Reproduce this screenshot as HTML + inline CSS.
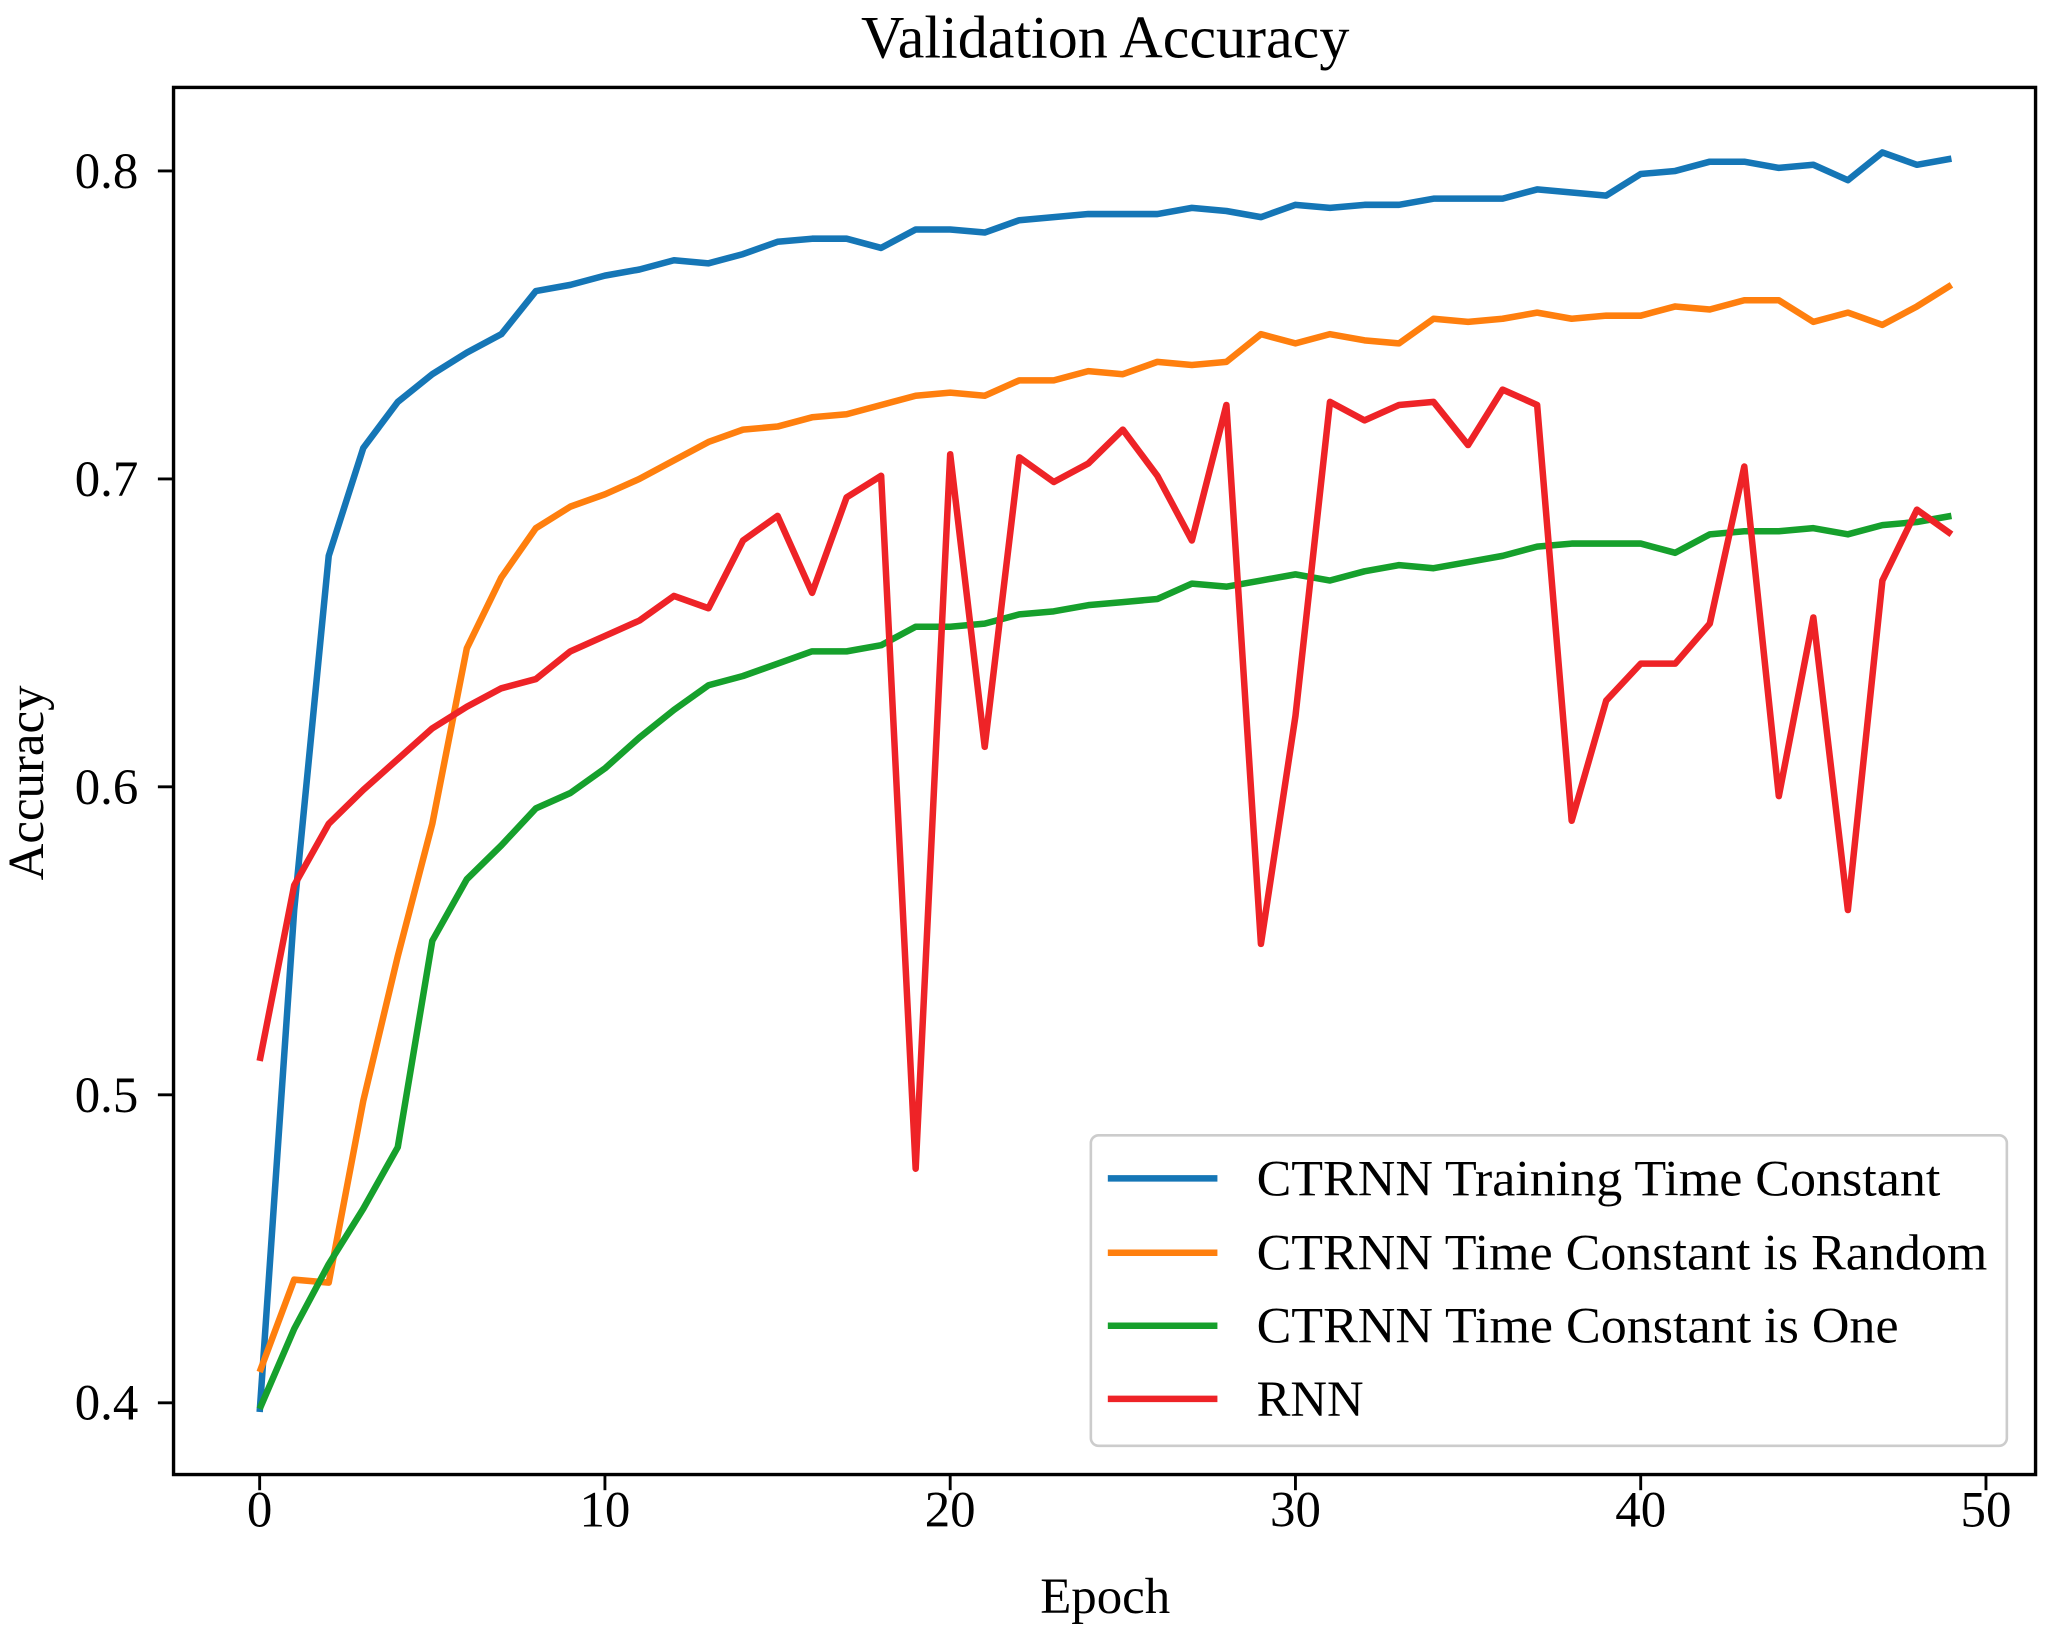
<!DOCTYPE html>
<html><head><meta charset="utf-8"><style>
html,body{margin:0;padding:0;background:#fff;}
svg{display:block;}
text{font-family:"Liberation Serif",serif;fill:#000;}
</style></head><body>
<svg id="chart" width="2046" height="1637" viewBox="0 0 1568 1254.5" preserveAspectRatio="none" xmlns="http://www.w3.org/2000/svg">
<text x="847" y="44" font-size="46" text-anchor="middle">Validation Accuracy</text>
<g id="plot"></g>
<text x="847" y="1236" font-size="39" text-anchor="middle">Epoch</text>
<text x="0" y="0" font-size="39" text-anchor="middle" transform="translate(33,600) rotate(-90)">Accuracy</text>
<g id="legend"></g>
</svg>
<script>
const epochs = Array.from({length:50},(_, i)=>i);
const seriesNames = ["CTRNN Training Time Constant","CTRNN Time Constant is Random","CTRNN Time Constant is One","RNN"];
const blueVals = [0.397,0.56,0.675,0.71,0.725,0.734,0.741,0.747,0.761,0.763,0.766,0.768,0.771,0.770,0.773,0.777,0.778,0.778,0.775,0.781,0.781,0.780,0.784,0.785,0.786,0.786,0.786,0.788,0.787,0.785,0.789,0.788,0.789,0.789,0.791,0.791,0.791,0.794,0.793,0.792,0.799,0.800,0.803,0.803,0.801,0.802,0.797,0.806,0.802,0.804];
const orangeVals = [0.41,0.44,0.439,0.498,0.545,0.588,0.645,0.668,0.684,0.691,0.695,0.700,0.706,0.712,0.716,0.717,0.720,0.721,0.724,0.727,0.728,0.727,0.732,0.732,0.735,0.734,0.738,0.737,0.738,0.747,0.744,0.747,0.745,0.744,0.752,0.751,0.752,0.754,0.752,0.753,0.753,0.756,0.755,0.758,0.758,0.751,0.754,0.750,0.756,0.763];
const greenVals = [0.398,0.424,0.445,0.463,0.483,0.55,0.57,0.581,0.593,0.598,0.606,0.616,0.625,0.633,0.636,0.640,0.644,0.644,0.646,0.652,0.652,0.653,0.656,0.657,0.659,0.660,0.661,0.666,0.665,0.667,0.669,0.667,0.670,0.672,0.671,0.673,0.675,0.678,0.679,0.679,0.679,0.676,0.682,0.683,0.683,0.684,0.682,0.685,0.686,0.688];
const redVals = [0.511,0.568,0.588,0.599,0.609,0.619,0.626,0.632,0.635,0.644,0.649,0.654,0.662,0.658,0.680,0.688,0.663,0.694,0.701,0.476,0.708,0.613,0.707,0.699,0.705,0.716,0.701,0.680,0.724,0.549,0.623,0.725,0.719,0.724,0.725,0.711,0.729,0.724,0.589,0.628,0.640,0.640,0.653,0.704,0.597,0.655,0.560,0.667,0.690,0.682];
const xTicks = [0,10,20,30,40,50];
const yTicks = [0.4,0.5,0.6,0.7,0.8];

const NS="http://www.w3.org/2000/svg";
const X0=199, X50=1522, Y04=1075, Y08=131;
const xs = v => X0 + (v-0)*(X50-X0)/50;
const ys = v => Y04 + (v-0.4)*(Y08-Y04)/0.4;
const plot=document.getElementById('plot');
const legend=document.getElementById('legend');
function mk(tag,attrs,parent){const e=document.createElementNS(NS,tag);for(const k in attrs)e.setAttribute(k,attrs[k]);parent.appendChild(e);return e;}

const colors=["#1576b6","#ff7f0e","#16a02c","#ee2327"];
const allVals=[blueVals,orangeVals,greenVals,redVals];
const keys=["blue-training","orange-random","green-one","red-rnn"];
allVals.forEach((vals,si)=>{
  const d=vals.map((v,i)=>(i?'L':'M')+xs(epochs[i]).toFixed(2)+' '+ys(v).toFixed(2)).join(' ');
  const p=mk('path',{d:d,fill:'none',stroke:colors[si],'stroke-width':5,'stroke-linejoin':'round'},plot);
  
  
});

const frame=mk('rect',{x:133,y:67,width:1427,height:1063,fill:'none',stroke:'#000','stroke-width':2.6},plot);



xTicks.forEach(t=>{
  const tk=mk('line',{x1:xs(t),x2:xs(t),y1:1130,y2:1142,stroke:'#000','stroke-width':2.2},plot);
  
  
  const lb=mk('text',{x:xs(t),y:1170,'font-size':39,'text-anchor':'middle'},plot);
  lb.textContent=String(t);
  
  
});
yTicks.forEach(t=>{
  const tk=mk('line',{x1:121,x2:133,y1:ys(t),y2:ys(t),stroke:'#000','stroke-width':2.2},plot);
  
  
  const lb=mk('text',{x:106,y:ys(t)+13,'font-size':39,'text-anchor':'end'},plot);
  lb.textContent=t.toFixed(1);
  
  
});

const box=mk('rect',{x:836,y:870,width:702,height:238,rx:6,fill:'#fff','fill-opacity':0.85,stroke:'#ccc','stroke-width':2},legend);


const rows=[903,960,1016,1072];
const legendWidths=[524,560,492,82];
seriesNames.forEach((n,i)=>{
  const g=mk('g',{},legend);
  
  
  mk('line',{x1:849,x2:933,y1:rows[i],y2:rows[i],stroke:colors[i],'stroke-width':5},g);
  const t=mk('text',{x:963,y:rows[i]+13,'font-size':39,textLength:legendWidths[i],lengthAdjust:'spacingAndGlyphs'},g);
  t.textContent=n;
});
</script>
</body></html>
